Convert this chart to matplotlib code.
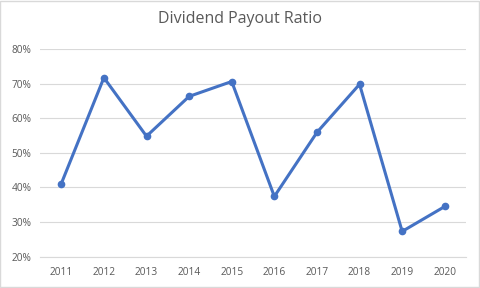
import matplotlib
matplotlib.use('Agg')
from matplotlib import pyplot as plt
from matplotlib.patches import Rectangle
from matplotlib.ticker import PercentFormatter

years = ['2011', '2012', '2013', '2014', '2015', '2016', '2017', '2018', '2019', '2020']
payout = [41.1, 71.7, 54.8, 66.3, 70.6, 37.4, 55.9, 69.8, 27.3, 34.5]

plt.rcParams['font.family'] = ['Open Sans', 'DejaVu Sans']

fig = plt.figure(figsize=(4.8, 2.88), dpi=100)
ax = fig.add_axes([0.0833, 0.1087, 0.8877, 0.7213])

x = list(range(len(years)))
ax.plot(x, [v / 100 for v in payout], color='#4472C4', linewidth=2.2,
        marker='o', markersize=4.5, solid_capstyle='round', zorder=3)

ax.set_xlim(-0.5, len(years) - 0.5)
ax.set_ylim(0.2, 0.8)
ax.set_yticks([0.2, 0.3, 0.4, 0.5, 0.6, 0.7, 0.8])
ax.yaxis.set_major_formatter(PercentFormatter(1.0, decimals=0))
ax.set_xticks(x)
ax.set_xticklabels(years)

ax.grid(axis='y', color='#D9D9D9', linewidth=0.8)
ax.set_axisbelow(True)
for s in ['top', 'right', 'left']:
    ax.spines[s].set_visible(False)
ax.spines['bottom'].set_color('#D9D9D9')
ax.spines['bottom'].set_linewidth(0.8)
ax.tick_params(length=0, labelsize=7.3, labelcolor='#595959')
ax.tick_params(axis='x', pad=7.5)
ax.tick_params(axis='y', pad=6)

fig.text(0.5, 0.935, 'Dividend Payout Ratio', ha='center', va='center',
         fontsize=11.5, color='#595959')

fig.patches.append(Rectangle((0.001, 0.002), 0.997, 0.995, transform=fig.transFigure,
                             fill=False, edgecolor='#D9D9D9', linewidth=1))

fig.savefig('out.png', dpi=100)
